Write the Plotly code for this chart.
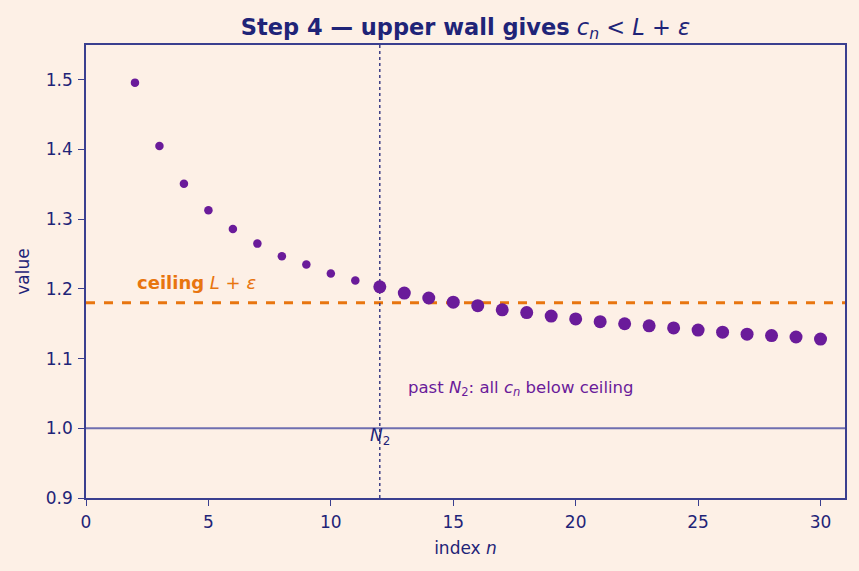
import plotly.graph_objects as go

n_vals = list(range(2, 31))
c_vals = [1.496, 1.405, 1.351, 1.313, 1.286, 1.265, 1.247, 1.235, 1.222, 1.212,
          1.203, 1.194, 1.187, 1.181, 1.176, 1.170, 1.166, 1.161, 1.157, 1.153,
          1.150, 1.147, 1.144, 1.141, 1.138, 1.135, 1.133, 1.131, 1.128]
ceiling = 1.18
limit = 1.0
N2 = 12

bg = "#fdf0e6"
navy = "#1f2478"
purple = "#6a1b9a"
orange = "#e8750f"
FONT = "DejaVu Sans"

pre_n = [n for n in n_vals if n < N2]
pre_c = [c for n, c in zip(n_vals, c_vals) if n < N2]
post_n = [n for n in n_vals if n >= N2]
post_c = [c for n, c in zip(n_vals, c_vals) if n >= N2]

fig = go.Figure()
fig.add_hline(y=ceiling, line=dict(color=orange, width=3, dash="dash"), layer="below")
fig.add_hline(y=limit, line=dict(color="#6f6fb0", width=2), layer="below")
fig.add_vline(x=N2, line=dict(color=navy, width=1.3, dash="dot"), layer="below")

fig.add_trace(go.Scatter(x=pre_n, y=pre_c, mode="markers",
                         marker=dict(color=purple, size=8.5), showlegend=False))
fig.add_trace(go.Scatter(x=post_n, y=post_c, mode="markers",
                         marker=dict(color=purple, size=13), showlegend=False))

fig.add_annotation(x=2, y=ceiling + 0.011, xanchor="left", yanchor="bottom",
                   text="<b>ceiling</b> <i>L</i> + <i>ε</i>", showarrow=False,
                   font=dict(color=orange, size=18, family=FONT))
fig.add_annotation(x=13.05, y=1.057, xanchor="left", yanchor="middle",
                   text="past <i>N</i><sub>2</sub>: all <i>c</i><sub><i>n</i></sub> below ceiling",
                   showarrow=False, font=dict(color=purple, size=16.5, family=FONT))
fig.add_annotation(x=N2, y=0.988, xanchor="center", yanchor="middle",
                   text="<i>N</i><sub>2</sub>", showarrow=False,
                   font=dict(color=navy, size=17, family=FONT))

axis_common = dict(showline=True, linecolor="#3a3f8f", linewidth=1.5, mirror=True,
                   ticks="outside", ticklen=6, tickwidth=1.3, tickcolor="#3a3f8f", showgrid=False,
                   zeroline=False, tickfont=dict(color=navy, size=17, family=FONT))

fig.update_layout(
    width=859, height=571,
    paper_bgcolor=bg, plot_bgcolor=bg,
    margin=dict(l=86, r=14, t=45, b=73),
    title=dict(text="<b>Step 4 — upper wall gives</b> <i>c</i><sub><i>n</i></sub> &lt; <i>L</i> + <i>ε</i>",
               xref="paper", x=0.5, xanchor="center", y=0.953, yanchor="middle",
               font=dict(color=navy, size=22.5, family=FONT)),
    xaxis=dict(range=[0, 31], tickvals=[0, 5, 10, 15, 20, 25, 30], ticklabelstandoff=2,
               title=dict(text="index <i>n</i>", font=dict(color=navy, size=17, family=FONT), standoff=11),
               **axis_common),
    yaxis=dict(range=[0.9, 1.55], tickvals=[0.9, 1.0, 1.1, 1.2, 1.3, 1.4, 1.5],
               ticktext=["0.9", "1.0", "1.1", "1.2", "1.3", "1.4", "1.5"], ticklabelstandoff=2,
               title=dict(text="value", font=dict(color=navy, size=17, family=FONT), standoff=12),
               **axis_common),
)

fig.write_html("out.html")
